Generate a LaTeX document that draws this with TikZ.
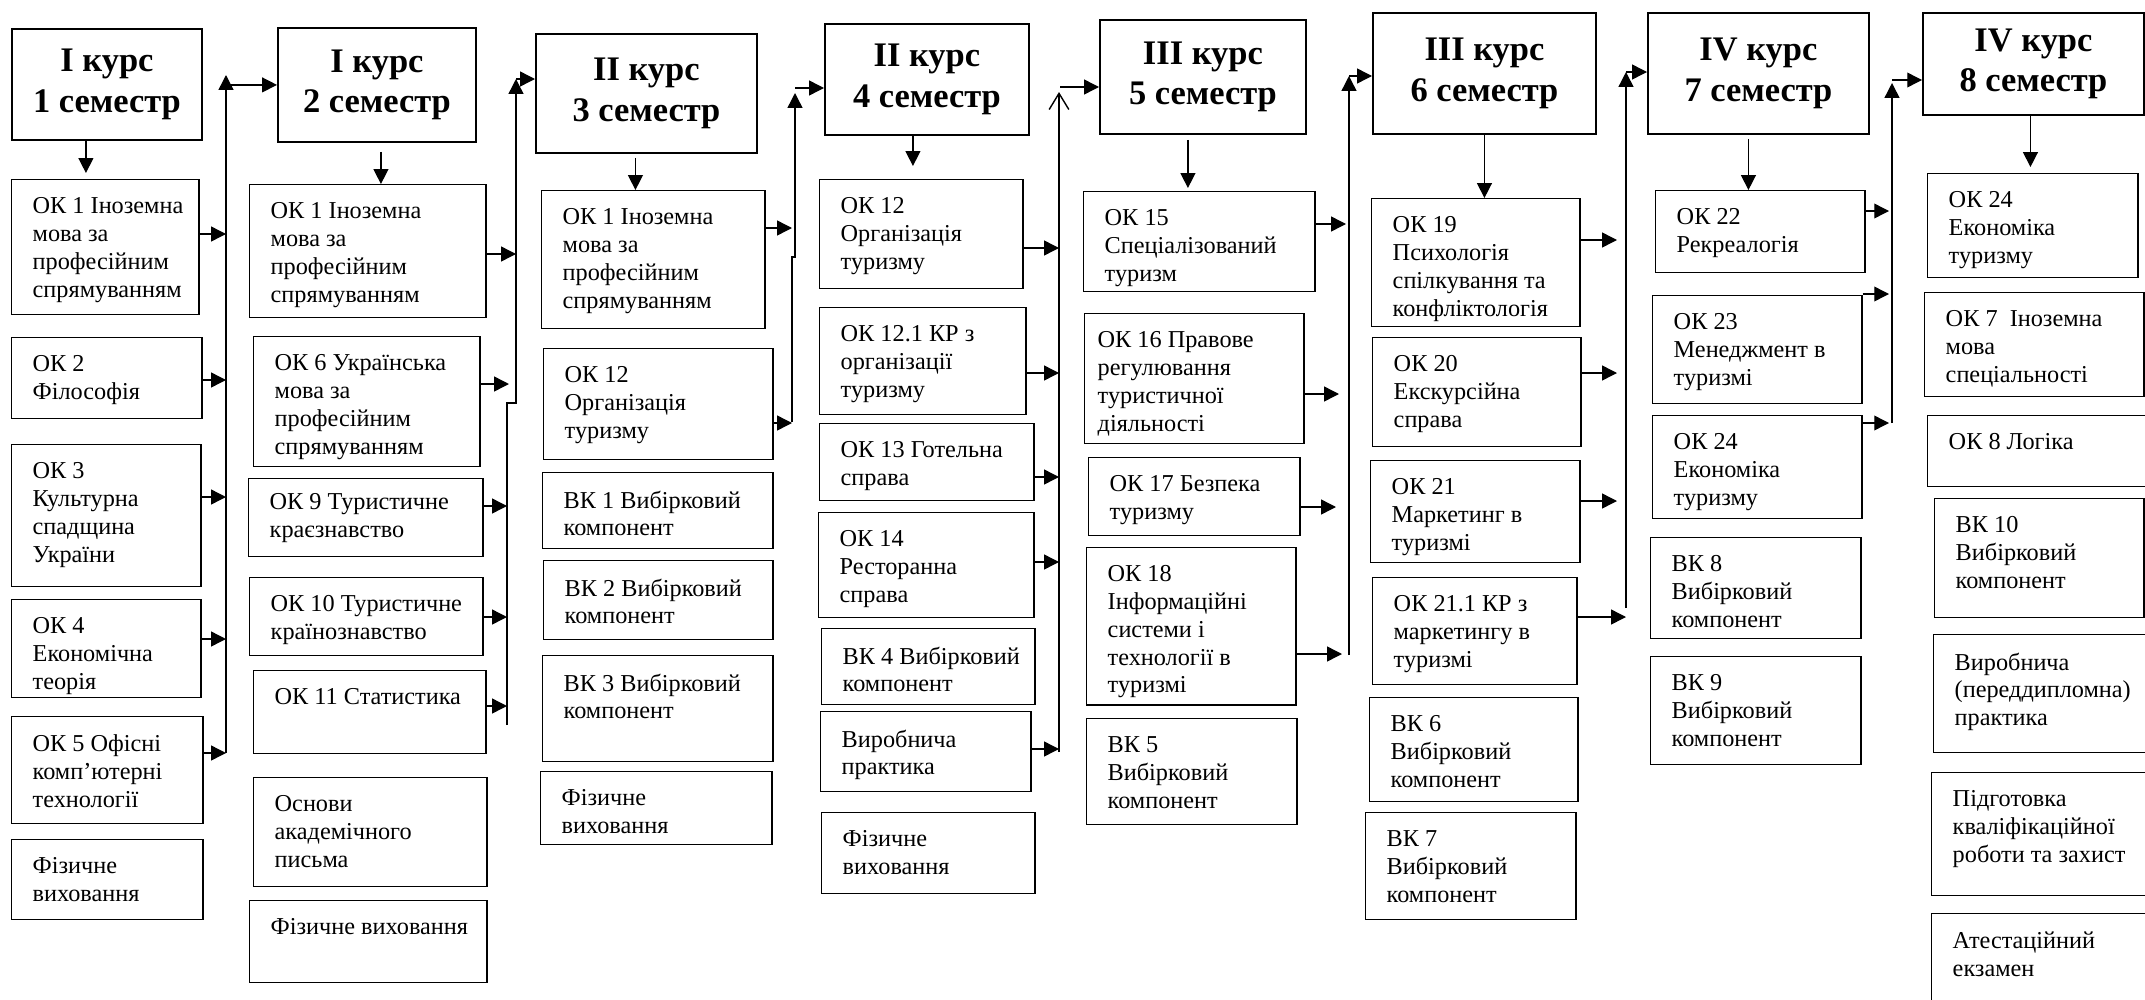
\documentclass[tikz,border=0pt]{standalone}
\usepackage{fontspec}
\setmainfont{Liberation Serif}
\usetikzlibrary{arrows.meta}

\newcommand\subjfont{\fontsize{6.9}{7.9}\selectfont}
\newcommand\semfont{\fontsize{9.8}{11.4}\selectfont\bfseries}
\newcommand\feed[4][0pt]{\draw[arr, shorten >=#1] (#2.east |- 0,#4) -- (#3 |- 0,#4);}

\tikzset{
  sem/.style={draw, line width=.5pt, anchor=north west, align=center, inner sep=0pt, font=\semfont},
  subj/.style={draw, line width=.4pt, anchor=north west, inner sep=0pt},
  txt/.style={anchor=north west, inner sep=0pt, align=left, font=\subjfont, xshift=.21cm, yshift=-.18cm},
  arr/.style={line width=.4pt, -{Triangle[length=4.2pt,width=4.2pt]}},
  oarr/.style={line width=.4pt, -{Straight Barb[length=4.6pt,width=5.6pt]}},
}

\begin{document}
\begin{tikzpicture}[x=0.01cm, y=-0.01cm]
\useasboundingbox (0,0) rectangle (2145,1000);

% 1 semester
\node[sem, minimum width=1.90cm, minimum height=1.11cm] (sem1) at (11,28) {I курс\\1 семестр};
\node[subj, minimum width=1.87cm, minimum height=1.35cm, label={[txt]north west:ОК 1 Іноземна\\мова за\\професійним\\спрямуванням}] (s1a) at (11,179) {};
\node[subj, minimum width=1.90cm, minimum height=0.81cm, label={[txt]north west:ОК 2\\Філософія}] (s1b) at (11,337) {};
\node[subj, minimum width=1.89cm, minimum height=1.42cm, label={[txt]north west:ОК 3\\Культурна\\спадщина\\України}] (s1c) at (11,444) {};
\node[subj, minimum width=1.89cm, minimum height=0.98cm, label={[txt]north west:ОК 4\\Економічна\\теорія}] (s1d) at (11,599) {};
\node[subj, minimum width=1.91cm, minimum height=1.07cm, label={[txt]north west:ОК 5 Офісні\\комп’ютерні\\технології}] (s1e) at (11,716) {};
\node[subj, minimum width=1.91cm, minimum height=0.80cm, label={[txt]north west:Фізичне\\виховання}] (s1f) at (11,839) {};

% 2 semester
\node[sem, minimum width=1.98cm, minimum height=1.14cm] (sem2) at (277,27) {I курс\\2 семестр};
\node[subj, minimum width=2.36cm, minimum height=1.33cm, label={[txt]north west:ОК 1 Іноземна\\мова за\\професійним\\спрямуванням}] (s2a) at (249,184) {};
\node[subj, minimum width=2.26cm, minimum height=1.30cm, label={[txt]north west:ОК 6 Українська\\мова за\\професійним\\спрямуванням}] (s2b) at (253,336) {};
\node[subj, minimum width=2.34cm, minimum height=0.78cm, label={[txt, yshift=.03cm]north west:ОК 9 Туристичне\\краєзнавство}] (s2c) at (248,478) {};
\node[subj, minimum width=2.33cm, minimum height=0.78cm, label={[txt]north west:ОК 10 Туристичне\\країнознавство}] (s2d) at (249,577) {};
\node[subj, minimum width=2.32cm, minimum height=0.83cm, label={[txt]north west:ОК 11 Статистика}] (s2e) at (253,670) {};
\node[subj, minimum width=2.33cm, minimum height=1.09cm, label={[txt]north west:Основи\\академічного\\письма}] (s2f) at (253,777) {};
\node[subj, minimum width=2.37cm, minimum height=0.82cm, label={[txt]north west:Фізичне виховання}] (s2g) at (249,900) {};

% 3 semester
\node[sem, minimum width=2.21cm, minimum height=1.19cm] (sem3) at (535,33) {II курс\\3 семестр};
\node[subj, minimum width=2.23cm, minimum height=1.38cm, label={[txt]north west:ОК 1 Іноземна\\мова за\\професійним\\спрямуванням}] (s3a) at (541,190) {};
\node[subj, minimum width=2.29cm, minimum height=1.11cm, label={[txt]north west:ОК 12\\Організація\\туризму}] (s3b) at (543,348) {};
\node[subj, minimum width=2.30cm, minimum height=0.76cm, label={[txt]north west:ВК 1 Вибірковий\\компонент}] (s3c) at (542,472) {};
\node[subj, minimum width=2.29cm, minimum height=0.79cm, label={[txt]north west:ВК 2 Вибірковий\\компонент}] (s3d) at (543,560) {};
\node[subj, minimum width=2.30cm, minimum height=1.06cm, label={[txt]north west:ВК 3 Вибірковий\\компонент}] (s3e) at (542,655) {};
\node[subj, minimum width=2.31cm, minimum height=0.73cm, label={[txt]north west:Фізичне\\виховання}] (s3f) at (540,771) {};

% 4 semester
\node[sem, minimum width=2.04cm, minimum height=1.11cm] (sem4) at (824,23) {II курс\\4 семестр};
\node[subj, minimum width=2.03cm, minimum height=1.09cm, label={[txt]north west:ОК 12\\Організація\\туризму}] (s4a) at (819,179) {};
\node[subj, minimum width=2.06cm, minimum height=1.07cm, label={[txt]north west:ОК 12.1 КР з\\організації\\туризму}] (s4b) at (819,307) {};
\node[subj, minimum width=2.14cm, minimum height=0.77cm, label={[txt]north west:ОК 13 Готельна\\справа}] (s4c) at (819,423) {};
\node[subj, minimum width=2.15cm, minimum height=1.05cm, label={[txt]north west:ОК 14\\Ресторанна\\справа}] (s4d) at (818,512) {};
\node[subj, minimum width=2.13cm, minimum height=0.76cm, label={[txt]north west:ВК 4 Вибірковий\\компонент}] (s4e) at (821,628) {};
\node[subj, minimum width=2.10cm, minimum height=0.80cm, label={[txt]north west:Виробнича\\практика}] (s4f) at (820,711) {};
\node[subj, minimum width=2.13cm, minimum height=0.81cm, label={[txt]north west:Фізичне\\виховання}] (s4g) at (821,812) {};

% 5 semester
\node[sem, minimum width=2.06cm, minimum height=1.14cm] (sem5) at (1099,19) {III курс\\5 семестр};
\node[subj, minimum width=2.31cm, minimum height=1.00cm, label={[txt]north west:ОК 15\\Спеціалізований\\туризм}] (s5a) at (1083,191) {};
\node[subj, minimum width=2.19cm, minimum height=1.30cm, label={[txt, xshift=-.08cm]north west:ОК 16 Правове\\регулювання\\туристичної\\діяльності}] (s5b) at (1084,313) {};
\node[subj, minimum width=2.11cm, minimum height=0.78cm, label={[txt]north west:ОК 17 Безпека\\туризму}] (s5c) at (1088,457) {};
\node[subj, minimum width=2.09cm, minimum height=1.57cm, label={[txt]north west:ОК 18\\Інформаційні\\системи і\\технології в\\туризмі}] (s5d) at (1086,547) {};
\node[subj, minimum width=2.10cm, minimum height=1.06cm, label={[txt]north west:ВК 5\\Вибірковий\\компонент}] (s5e) at (1086,718) {};

% 6 semester
\node[sem, minimum width=2.23cm, minimum height=1.21cm] (sem6) at (1372,12) {III курс\\6 семестр};
\node[subj, minimum width=2.08cm, minimum height=1.28cm, label={[txt]north west:ОК 19\\Психологія\\спілкування та\\конфліктологія}] (s6a) at (1371,198) {};
\node[subj, minimum width=2.08cm, minimum height=1.09cm, label={[txt]north west:ОК 20\\Екскурсійна\\справа}] (s6b) at (1372,337) {};
\node[subj, minimum width=2.09cm, minimum height=1.02cm, label={[txt]north west:ОК 21\\Маркетинг в\\туризмі}] (s6c) at (1370,460) {};
\node[subj, minimum width=2.04cm, minimum height=1.07cm, label={[txt]north west:ОК 21.1 КР з\\маркетингу в\\туризмі}] (s6d) at (1372,577) {};
\node[subj, minimum width=2.08cm, minimum height=1.04cm, label={[txt]north west:ВК 6\\Вибірковий\\компонент}] (s6e) at (1369,697) {};
\node[subj, minimum width=2.10cm, minimum height=1.07cm, label={[txt]north west:ВК 7\\Вибірковий\\компонент}] (s6f) at (1365,812) {};

% 7 semester
\node[sem, minimum width=2.21cm, minimum height=1.21cm] (sem7) at (1647,12) {IV курс\\7 семестр};
\node[subj, minimum width=2.09cm, minimum height=0.82cm, label={[txt]north west:ОК 22\\Рекреалогія}] (s7a) at (1655,190) {};
\node[subj, minimum width=2.09cm, minimum height=1.08cm, label={[txt]north west:ОК 23\\Менеджмент в\\туризмі}] (s7b) at (1652,295) {};
\node[subj, minimum width=2.09cm, minimum height=1.03cm, label={[txt]north west:ОК 24\\Економіка\\туризму}] (s7c) at (1652,415) {};
\node[subj, minimum width=2.10cm, minimum height=1.01cm, label={[txt]north west:ВК 8\\Вибірковий\\компонент}] (s7d) at (1650,537) {};
\node[subj, minimum width=2.10cm, minimum height=1.08cm, label={[txt]north west:ВК 9\\Вибірковий\\компонент}] (s7e) at (1650,656) {};

% 8 semester
\node[sem, minimum width=2.21cm, minimum height=1.02cm] (sem8) at (1922,12) {IV курс\\8 семестр};
\node[subj, minimum width=2.10cm, minimum height=1.04cm, label={[txt]north west:ОК 24\\Економіка\\туризму}] (s8a) at (1927,173) {};
\node[subj, minimum width=2.19cm, minimum height=1.04cm, label={[txt]north west:ОК 7~~Іноземна\\мова\\спеціальності}] (s8b) at (1924,292) {};
\node[subj, minimum width=2.28cm, minimum height=0.71cm, label={[txt]north west:ОК 8 Логіка}] (s8c) at (1927,415) {};
\node[subj, minimum width=2.09cm, minimum height=1.19cm, label={[txt]north west:ВК 10\\Вибірковий\\компонент}] (s8d) at (1934,498) {};
\node[subj, minimum width=2.22cm, minimum height=1.18cm, label={[txt]north west:Виробнича\\(переддипломна)\\практика}] (s8e) at (1933,634) {};
\node[subj, minimum width=2.24cm, minimum height=1.23cm, label={[txt]north west:Підготовка\\кваліфікаційної\\роботи та захист}] (s8f) at (1931,772) {};
\node[subj, minimum width=2.24cm, minimum height=0.97cm, label={[txt]north west:Атестаційний\\екзамен}] (s8g) at (1931,913) {};

% down arrows
\coordinate (d1) at ([xshift=-.21cm]sem1.south);
\coordinate (d2) at ([xshift=.04cm]sem2.south);
\coordinate (d3) at ([xshift=-.11cm]sem3.south);
\coordinate (d4) at ([xshift=-.14cm]sem4.south);
\coordinate (d5) at ([xshift=-.15cm]sem5.south);
\coordinate (d6) at (sem6.south);
\coordinate (d7) at ([xshift=-.10cm]sem7.south);
\coordinate (d8) at ([xshift=-.03cm]sem8.south);
\draw[arr, shorten >=.06cm] (d1) -- (d1 |- s1a.north);
\draw[arr, shorten <=.09cm] (d2) -- (d2 |- s2a.north);
\draw[arr, shorten <=.04cm] (d3) -- (d3 |- s3a.north);
\draw[arr, shorten >=.13cm] (d4) -- (d4 |- s4a.north);
\draw[arr, shorten <=.05cm, shorten >=.03cm] (d5) -- (d5 |- s5a.north);
\draw[arr] (d6) -- (d6 |- s6a.north);
\draw[arr, shorten <=.04cm] (d7) -- (d7 |- s7a.north);
\draw[arr, shorten >=.06cm] (d8) -- (d8 |- s8a.north);

% bus 1
\coordinate (b1) at (226,753);
\coordinate (b1t) at (226,75);
\draw[arr] (b1) -- (b1t);
\draw[arr] (b1t |- sem2.west) -- (sem2.west);
\feed{s1a}{b1}{234} \feed{s1b}{b1}{380} \feed{s1c}{b1}{497} \feed{s1d}{b1}{639} \feed{s1e}{b1}{753}

% bus 2
\coordinate (b2) at (507,725);
\coordinate (b2j) at (507,403);
\coordinate (b2t) at (516,79);
\draw[arr] (b2) -- (b2j) -- (b2j -| b2t) -- (b2t);
\draw[arr] (b2t) -- (b2t -| sem3.west);
\feed{s2a}{b2t}{254} \feed[.07cm]{s2b}{b2t}{384} \feed{s2c}{b2}{506} \feed{s2d}{b2}{617} \feed{s2e}{b2}{706}

% bus 3
\coordinate (b3) at (792,422);
\coordinate (b3j) at (792,257);
\coordinate (b3t) at (795,93);
\coordinate (b3h) at (795,88);
\draw[arr] (b3) -- (b3j) -- (b3j -| b3t) -- (b3t);
\draw[arr] (b3h) -- (b3h -| sem4.west);
\feed{s3a}{b3}{228} \feed{s3b}{b3}{423}

% bus 4
\coordinate (b4) at (1059,752);
\coordinate (b4t) at (1059,92);
\coordinate (b4h) at (1060,87);
\draw[oarr] (b4) -- (b4t);
\draw[arr] (b4h) -- (b4h -| sem5.west);
\feed{s4a}{b4}{248} \feed{s4b}{b4}{373} \feed{s4c}{b4}{477} \feed{s4d}{b4}{562} \feed{s4f}{b4}{749}

% bus 5
\coordinate (b5) at (1349,655);
\coordinate (b5t) at (1349,76);
\draw[arr] (b5) -- (b5t);
\draw[arr] (b5t) -- (b5t -| sem6.west);
\feed[.03cm]{s5a}{b5}{224} \feed[.1cm]{s5b}{b5}{394} \feed[.13cm]{s5c}{b5}{507} \feed[.07cm]{s5d}{b5}{654}

% bus 6
\coordinate (b6) at (1626,608);
\coordinate (b6t) at (1626,72);
\draw[arr] (b6) -- (b6t);
\draw[arr] (b6t) -- (b6t -| sem7.west);
\feed[.09cm]{s6a}{b6}{240} \feed[.09cm]{s6b}{b6}{373} \feed[.09cm]{s6c}{b6}{501} \feed{s6d}{b6}{617}

% bus 7
\coordinate (b7) at (1892,423);
\coordinate (b7t) at (1892,83);
\coordinate (b7h) at (1892,80);
\draw[arr] (b7) -- (b7t);
\draw[arr] (b7h) -- (b7h -| sem8.west);
\feed[.03cm]{s7a}{b7}{211} \feed[.03cm]{s7b}{b7}{294} \feed[.03cm]{s7c}{b7}{423}
\end{tikzpicture}
\end{document}
